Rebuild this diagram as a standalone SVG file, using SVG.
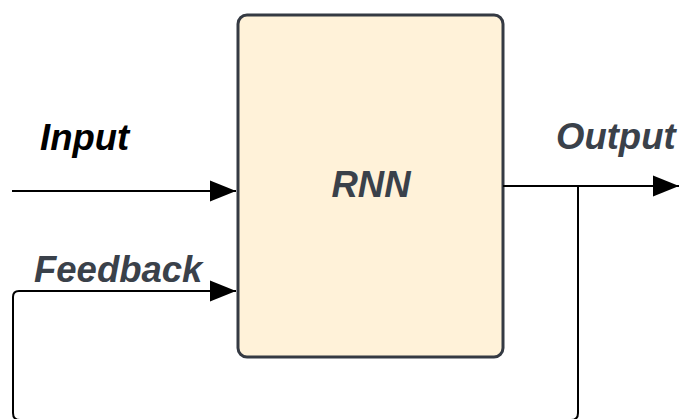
<svg xmlns="http://www.w3.org/2000/svg" width="679" height="419" viewBox="0 0 679 419">
<style>
.lbl{font-family:"Liberation Sans",Arial,sans-serif;font-weight:bold;font-style:italic;font-size:36.5px;fill:#3a414a}
.ln{fill:none;stroke:#000;stroke-width:2}
</style>
<defs>
<marker id="ah" viewBox="0 0 10 10" refX="10" refY="5" markerWidth="26" markerHeight="26" markerUnits="userSpaceOnUse" orient="auto">
<path d="M0,1 L10,5 L0,9 Z" fill="#000"/>
</marker>
</defs>
<rect width="679" height="419" fill="#fff"/>
<g id="rnn">
<rect x="238" y="15" width="265" height="342" rx="9" fill="#fff2d9" stroke="#353a43" stroke-width="3"/>
<text class="lbl" x="371" y="197" text-anchor="middle">RNN</text>
</g>
<g id="input-label"><text class="lbl" x="40" y="150" style="fill:#000">Input</text></g>
<g id="feedback-label"><text class="lbl" x="34" y="282">Feedback</text></g>
<g id="output-label"><text class="lbl" x="556" y="149">Output</text></g>
<g id="connectors">
<path class="ln" d="M12,191 L236,191" marker-end="url(#ah)"/>
<path class="ln" d="M503,186 L679,186" marker-end="url(#ah)"/>
<path class="ln" d="M578,186 L578,413 Q578,420 571,420 L20,420 Q13,420 13,413 L13,297 Q13,291 19,291 L236,291" marker-end="url(#ah)"/>
</g>
</svg>
